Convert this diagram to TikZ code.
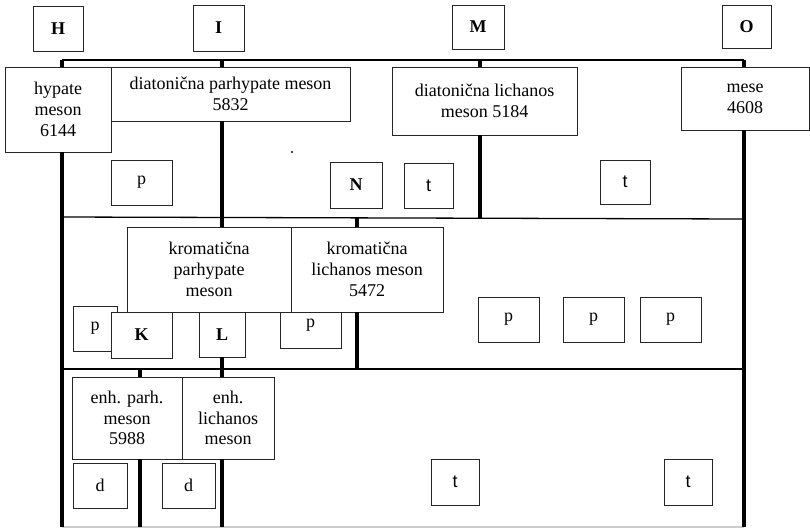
\documentclass[tikz,border=0pt]{standalone}
\usepackage{fontspec}
\setmainfont{Liberation Serif}
\newfontfamily\sansfont{Liberation Sans}
\usepackage{tikz}
\usetikzlibrary{positioning}

\begin{document}
\begin{tikzpicture}[
  x=1pt, y=-1pt,
  every node/.style={font=\fontsize{18}{20.7}\selectfont},
  box/.style={draw=black!85, line width=0.9pt, fill=white, inner sep=0pt,
              align=center},
  tag/.style={box, font=\fontsize{18}{20.7}\selectfont\bfseries},
  tbox/.style={box, font=\fontsize{18}{20.7}\selectfont\sansfont},
  bus/.style={line width=1.3pt},
  stem/.style={line width=3.6pt}
]
  \useasboundingbox (0,0) rectangle (810,527);

  % Explicit coordinates: one unit per pixel, y grows downwards
  \coordinate (H0) at (62,60);   \coordinate (O0) at (744,60);
  \coordinate (H1) at (62,217);  \coordinate (O1) at (744,219);
  \coordinate (H2) at (62,369);  \coordinate (O2) at (744,369);
  \coordinate (H3) at (62,527);  \coordinate (O3) at (744,527);
  \coordinate (I0) at (222,60);  \coordinate (I3) at (222,527);
  \coordinate (M0) at (480,60);  \coordinate (M1) at (480,219);
  \coordinate (N1) at (357,218); \coordinate (N2) at (357,369);
  \coordinate (K2) at (140,369); \coordinate (K3) at (140,527);

  % Letters on top
  \node[tag, minimum width=50pt, minimum height=45pt] (H) at (58,28.5)  {H};
  \node[tag, minimum width=51pt, minimum height=46pt] (I) at (218.5,28) {I};
  \node[tag, minimum width=52pt, minimum height=44pt] (M) at (478,27)   {M};
  \node[tag, minimum width=49pt, minimum height=43pt] (O) at (746.5,26.5) {O};

  % Diatonic row
  \node[box, minimum width=106pt, minimum height=85pt] (hyp)   at (58,109.5)
       {hypate\\meson\\6144};
  \node[box, minimum width=239pt, minimum height=54pt] (dpar)  at (230.5,94)
       {diatonična parhypate meson\\5832};
  \node[box, minimum width=185pt, minimum height=68pt] (dlich) at (484.5,101)
       {diatonična lichanos\\meson 5184};
  \node[box, minimum width=128pt, minimum height=63pt] (mese)  at (745,98.5)
       {mese\\4608};

  \node[box,  minimum width=61pt, minimum height=45pt] (p1) at (141.5,182.5) {p};
  \node[tag,  minimum width=52pt, minimum height=46pt] (N)  at (356,185)     {N};
  \node[tbox, minimum width=49pt, minimum height=45pt] (t1) at (428.5,185.5) {t};
  \node[tbox, minimum width=50pt, minimum height=44pt] (t2) at (625,182)     {t};
  \node[circle, fill, inner sep=0.8pt] (speck) at (292,152) {};

  % Chromatic row
  \node[box, minimum width=61pt, minimum height=46pt] (p3) at (310.5,325) {p};
  \node[box, minimum width=164pt, minimum height=85pt] (kpar)  at (209,269.5)
       {kromatična\\parhypate\\meson};
  \node[box, minimum width=152pt, minimum height=85pt] (klich) at (367,269.5)
       {kromatična\\lichanos meson\\5472};

  \node[box, minimum width=44pt, minimum height=45pt] (p2) at (95,328.5)    {p};
  \node[tag, minimum width=61pt, minimum height=46pt] (K)  at (141.5,335)   {K};
  \node[tag, minimum width=46pt, minimum height=45pt] (L)  at (222,334.5)   {L};
  \node[box, minimum width=61pt, minimum height=45pt] (p4) at (508.5,319.5) {p};
  \node[box, minimum width=61pt, minimum height=45pt] (p5) at (593.5,319.5) {p};
  \node[box, minimum width=61pt, minimum height=45pt] (p6) at (670.5,319.5) {p};

  % Enharmonic row
  \node[box, minimum width=110pt, minimum height=82pt] (epar)  at (127,418)
       {enh. parh.\\meson\\5988};
  \node[box, minimum width=92pt, minimum height=82pt]  (elich) at (228,418)
       {enh.\\lichanos\\meson};

  \node[box,  minimum width=54pt, minimum height=45pt] (d1) at (100,485.5) {d};
  \node[box,  minimum width=53pt, minimum height=45pt] (d2) at (188.5,485.5) {d};
  \node[tbox, minimum width=48pt, minimum height=46pt] (t3) at (455,482) {t};
  \node[tbox, minimum width=48pt, minimum height=46pt] (t4) at (688,482) {t};

  % Horizontal rails
  \draw[bus] (H0) -- (O0);
  \draw[bus] (H1) -- (O1);
  \draw[bus] (H2) -- (O2);
  \draw[bus, black!20] (H3) -- (O3);

  % Thick stems between rails and boxes
  \draw[stem] (H0) -- (hyp.north -| H0);
  \draw[stem] (hyp.south -| H0) -- (H3);
  \draw[stem] (I0) -- (dpar.north -| I0);
  \draw[stem] (dpar.south -| I0) -- (kpar.north -| I0);
  \draw[stem] (L.south) -- (elich.north -| L.south);
  \draw[stem] (elich.south -| I0) -- (I3);
  \draw[stem] (M0) -- (dlich.north -| M0);
  \draw[stem] (dlich.south -| M0) -- (M1);
  \draw[stem] (O0) -- (mese.north -| O0);
  \draw[stem] (mese.south -| O0) -- (O3);
  \draw[stem] (N1) -- (klich.north -| N1);
  \draw[stem] (klich.south -| N1) -- (N2);
  \draw[stem] (K2) -- (epar.north -| K2);
  \draw[stem] (epar.south -| K2) -- (K3);
\end{tikzpicture}
\end{document}
